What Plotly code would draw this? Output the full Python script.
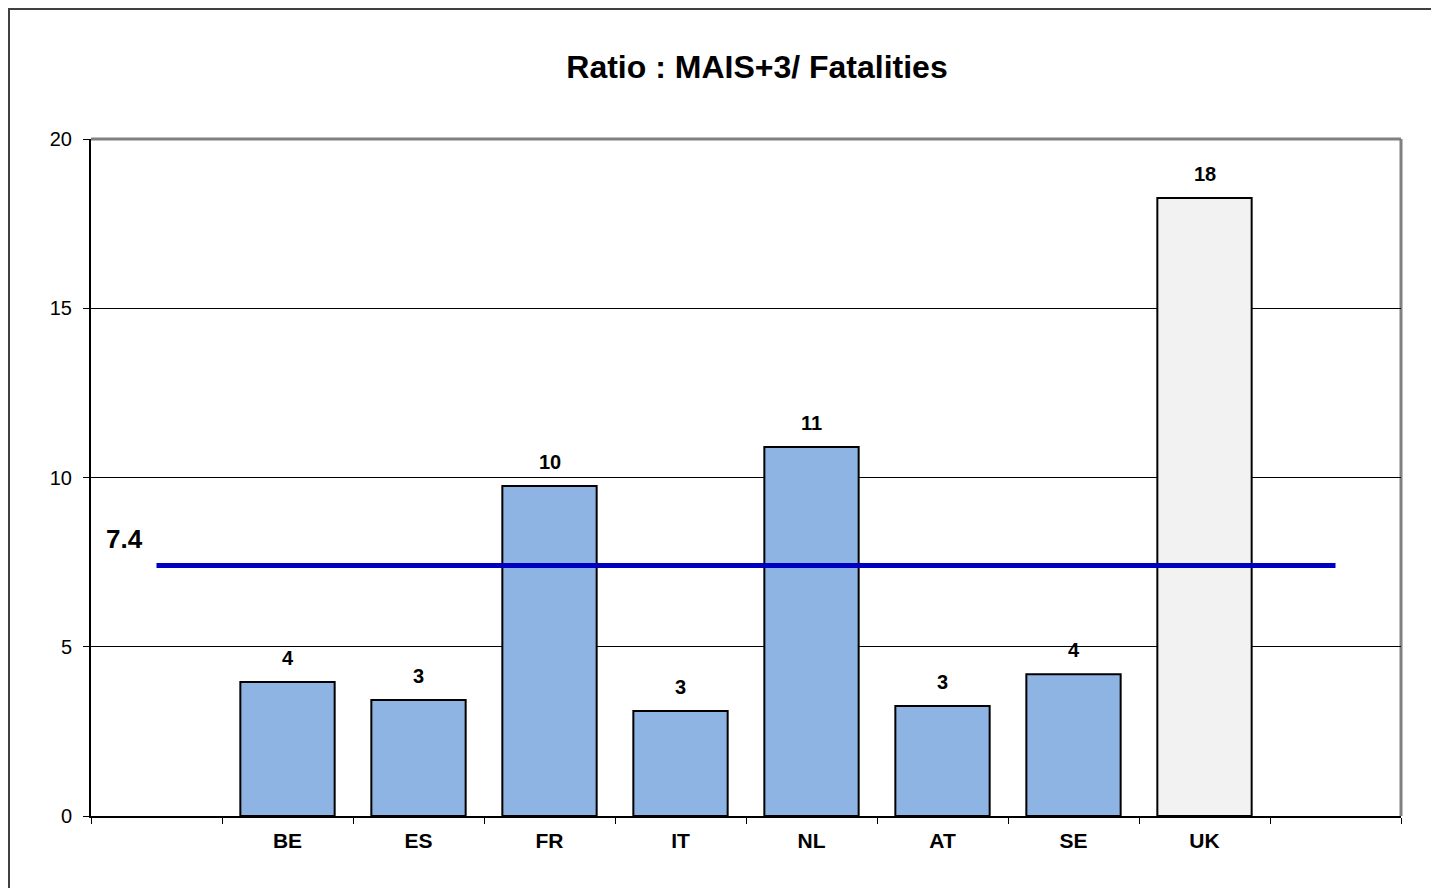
import plotly.graph_objects as go

# ---- data ----
countries = ["BE", "ES", "FR", "IT", "NL", "AT", "SE", "UK"]
ratios = [3.96, 3.43, 9.75, 3.10, 10.90, 3.25, 4.19, 18.26]
average_ratio = 7.4
y_ticks = [0, 5, 10, 15, 20]
title_text = "Ratio : MAIS+3/ Fatalities"

# empty slots before and after the countries (as in the original chart)
slots = [" "] + countries + ["  "]

FONT = "Liberation Sans, Arial, sans-serif"
bar_colors = ["#F2F2F2" if c == "UK" else "#8EB4E3" for c in countries]

# page has an 8px body margin; figure coordinates are offset by it
OFF = 8
W, H = 1423, 880
L, T = 91 - OFF, 139 - OFF
PW, PH = 1310, 677
R = W - L - PW
B = H - T - PH

fig = go.Figure()

fig.add_trace(go.Bar(
    x=countries, y=ratios,
    marker=dict(color=bar_colors, line=dict(color="#000000", width=2)),
    showlegend=False, hoverinfo="x+y",
))

fig.add_trace(go.Scatter(
    x=[slots[0], slots[-1]], y=[average_ratio, average_ratio],
    mode="lines", line=dict(color="#0000C0", width=5),
    showlegend=False,
))

# bar value labels
for c, v in zip(countries, ratios):
    fig.add_annotation(
        x=c, y=v, text=f"<b>{v:.0f}</b>", showarrow=False,
        yanchor="bottom", yshift=11,
        font=dict(family=FONT, size=20, color="#000000"),
    )

# average label
fig.add_annotation(
    xref="paper", x=(124 - 91) / PW, xanchor="center", y=average_ratio, yref="y",
    text=f"<b>{average_ratio}</b>", showarrow=False,
    yanchor="middle", yshift=27,
    font=dict(family=FONT, size=26, color="#000000"),
)

# plot-area border (top & right grey)
fig.add_shape(type="line", xref="paper", yref="paper", x0=0, x1=1, y0=1, y1=1,
              line=dict(color="#808080", width=3), layer="below")
fig.add_shape(type="line", xref="paper", yref="paper", x0=1, x1=1, y0=0, y1=1,
              line=dict(color="#808080", width=3), layer="below")

# outer chart border (top and left edges visible)
fig.add_shape(type="rect", xref="paper", yref="paper",
              x0=(1 - L) / PW, x1=1.2, y0=-0.3, y1=(PH + T - 1) / PH,
              line=dict(color="#404040", width=2), layer="below")

fig.update_layout(
    width=W, height=H,
    margin=dict(l=L, r=R, t=T, b=B, autoexpand=False),
    paper_bgcolor="#FFFFFF", plot_bgcolor="#FFFFFF",
    bargap=0.28,
    title=dict(text=f"<b>{title_text}</b>", x=(757 - OFF) / W, xanchor="center",
               y=1 - (67 - OFF) / H, yanchor="middle", xref="container", yref="container",
               font=dict(family=FONT, size=32, color="#000000")),
    font=dict(family=FONT, color="#000000"),
)

fig.update_xaxes(
    type="category", categoryorder="array", categoryarray=slots,
    range=[-0.5, len(slots) - 0.5],
    tickson="boundaries", ticks="outside", ticklen=6, tickwidth=1, tickcolor="#000000",
    showline=True, linecolor="#000000", linewidth=2,
    showgrid=False, zeroline=False, ticklabelstandoff=5,
    tickfont=dict(family=FONT, size=21, color="#000000", weight="bold"),
)

fig.update_yaxes(
    range=[0, 20], tickvals=y_ticks,
    ticks="outside", ticklen=6, tickwidth=1, tickcolor="#000000",
    showline=True, linecolor="#000000", linewidth=2,
    showgrid=True, gridcolor="#000000", gridwidth=1, zeroline=False,
    ticklabelstandoff=7,
    tickfont=dict(family=FONT, size=20, color="#000000"),
)

fig.write_html("out.html")
